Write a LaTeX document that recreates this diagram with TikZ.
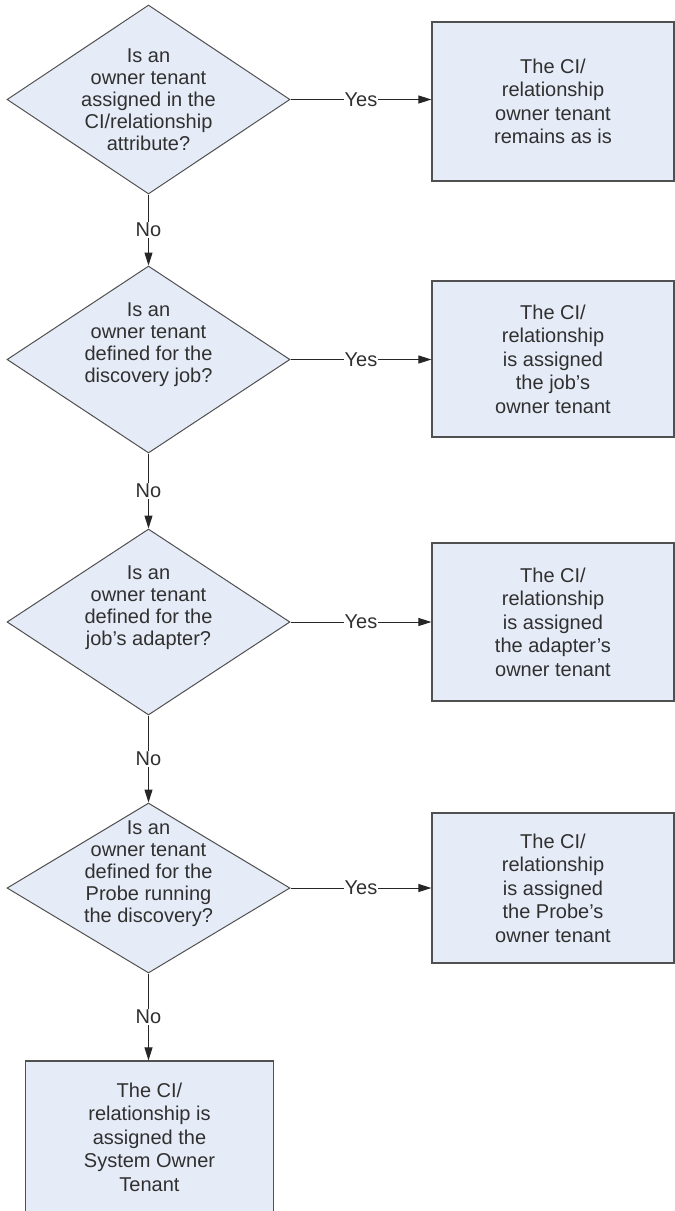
\documentclass[tikz,border=0pt]{standalone}
\usepackage{fontspec}
\setmainfont{Liberation Sans}
\usetikzlibrary{shapes.geometric, arrows.meta}
\definecolor{boxfill}{HTML}{E6ECF7}
\definecolor{boxline}{HTML}{505050}
\definecolor{boxtext}{HTML}{303030}
\tikzset{
  question/.style={diamond, draw=boxline, fill=boxfill, line width=1pt,
    text=boxtext, font=\fontsize{20}{22}\selectfont, align=center,
    inner sep=-25pt, minimum width=283pt},
  outcome/.style={rectangle, draw=boxline, fill=boxfill, line width=1.2pt,
    text=boxtext, font=\fontsize{20}{23.5}\selectfont, align=center,
    minimum width=242pt},
  flow/.style={draw=black!85, line width=1pt, -{Triangle[length=13pt,width=8pt]}},
  answer/.style={fill=white, text=boxtext, font=\fontsize{20}{22}\selectfont,
    inner sep=1pt},
}
\begin{document}
\begin{tikzpicture}[x=1pt, y=-1pt]
  \useasboundingbox (0,0) rectangle (675,1211);
  % questions
  \node[question, minimum height=189pt] (q1) at (148.5, 99.5)
    {Is an\\owner tenant\\assigned in the\\CI/relationship\\attribute?};
  \node[question, minimum height=187pt] (q2) at (148.5, 359.5)
    {Is an\\owner tenant\\defined for the\\discovery job?\\[11pt]~};
  \node[question, minimum height=186pt] (q3) at (148.5, 622)
    {Is an\\owner tenant\\defined for the\\job's adapter?\\[11pt]~};
  \node[question, minimum height=170pt] (q4) at (148.5, 888)
    {Is an\\owner tenant\\defined for the\\Probe running\\the discovery?\\[11pt]~};
  % outcomes
  \node[outcome, minimum height=159pt] (b1) at (553, 101.5)
    {The CI/\\relationship\\owner tenant\\remains as is};
  \node[outcome, minimum height=156pt] (b2) at (553, 359)
    {The CI/\\relationship\\is assigned\\the job's\\owner tenant};
  \node[outcome, minimum height=158pt] (b3) at (553, 622)
    {The CI/\\relationship\\is assigned\\the adapter's\\owner tenant};
  \node[outcome, minimum height=150pt] (b4) at (553, 888)
    {The CI/\\relationship\\is assigned\\the Probe's\\owner tenant};
  \node[outcome, minimum width=248pt, minimum height=152pt] (b5) at (149.5, 1137)
    {The CI/\\relationship is\\assigned the\\System Owner\\Tenant};
  % yes branches
  \draw[flow] (q1.east) -- node[answer] {Yes} (q1.east -| b1.west);
  \draw[flow] (q2.east) -- node[answer] {Yes} (q2.east -| b2.west);
  \draw[flow] (q3.east) -- node[answer] {Yes} (q3.east -| b3.west);
  \draw[flow] (q4.east) -- node[answer] {Yes} (q4.east -| b4.west);
  % no branches
  \draw[flow] (q1.south) -- node[answer] {No} (q2.north);
  \draw[flow] (q2.south) -- node[answer] {No} (q3.north);
  \draw[flow] (q3.south) -- node[answer] {No} (q4.north);
  \draw[flow] (q4.south) -- node[answer] {No} (q4.south |- b5.north);
\end{tikzpicture}
\end{document}
